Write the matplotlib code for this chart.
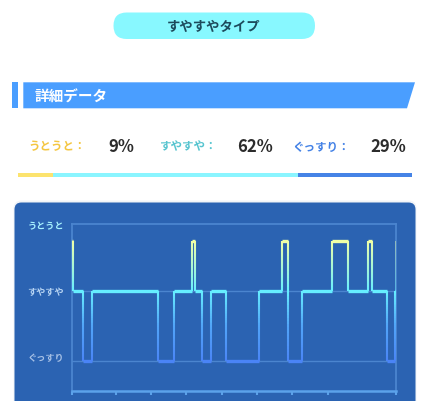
import numpy as np
import matplotlib
matplotlib.use('Agg')
import matplotlib.pyplot as plt
from matplotlib.patches import FancyBboxPatch, Polygon, Rectangle
from matplotlib.collections import LineCollection
from matplotlib.colors import LinearSegmentedColormap, Normalize

plt.rcParams['font.family'] = ['Noto Sans CJK JP', 'DejaVu Sans']

# ---------------- data ----------------
type_title = 'すやすやタイプ'
section_title = '詳細データ'
stage_names = ['うとうと', 'すやすや', 'ぐっすり']
stage_percents = [9, 62, 29]

# hypnogram: minutes from sleep start and the stage that begins there
start_minutes = [0, 2, 18, 34, 145, 172, 203, 209, 220, 236, 261, 317,
                 356, 366, 391, 441, 468, 502, 510, 534, 549]
stage_seq = ['うとうと', 'すやすや', 'ぐっすり', 'すやすや', 'ぐっすり', 'すやすや',
             'うとうと', 'すやすや', 'ぐっすり', 'すやすや', 'ぐっすり', 'すやすや',
             'うとうと', 'ぐっすり', 'すやすや', 'うとうと', 'すやすや', 'うとうと',
             'すやすや', 'ぐっすり', 'すやすや']
end_minute = 550
end_stage = 'うとうと'
tick_minutes = [0, 74, 134, 194, 254, 314, 374, 434, 550]

# ---------------- styles ----------------
label_colors = ['#F4C640', '#58C5D0', '#4482E6']
bar_colors = ['#FCE36E', '#8AF5FF', '#4583E6']
ylabel_colors = ['#A8F2FF', '#B7D4F3', '#A7C1E6']
level_y = {'ぐっすり': 0.0, 'すやすや': 1.0, 'うとうと': 1.72}
ylabel_pos = [1.94, 1.01, 0.07]

W, H = 432, 402
fig = plt.figure(figsize=(W / 100, H / 100), dpi=100)
fig.patch.set_facecolor('white')
bg = fig.add_axes([0, 0, 1, 1])
bg.set_xlim(0, W)
bg.set_ylim(H, 0)
bg.axis('off')

# pill title
bg.add_patch(FancyBboxPatch((113.5, 13.5), 201.5, 26.5,
                            boxstyle='round,pad=0,rounding_size=13.2',
                            fc='#88F8FF', ec='none'))
bg.text(214, 26.5, type_title, ha='center', va='center', fontsize=9.6,
        fontweight='bold', color='#1D4B5C')

# section header
bg.add_patch(Rectangle((11.7, 83.3), 6.3, 26, fc='#4A9EFF', ec='none'))
bg.add_patch(Polygon([(23.3, 83.3), (415, 83.3), (407, 109.3), (23.3, 109.3)],
                     closed=True, fc='#4A9EFF', ec='none'))
bg.text(35, 96.5, section_title, ha='left', va='center', fontsize=10.5,
        fontweight='bold', color='white')

# stats row
label_x = [28, 160, 292]
num_x = [108, 237, 370]
for name, pct, c, lx, nx in zip(stage_names, stage_percents, label_colors, label_x, num_x):
    bg.text(lx, 147, name + '：', ha='left', va='center', fontsize=8.3,
            fontweight='bold', color=c)
    bg.text(nx, 147, f'{pct}%', ha='left', va='center', fontsize=12,
            fontweight='bold', color='#2B2B2B')

# progress bar
x0, total = 18, 394
cur = x0
for pct, c in zip(stage_percents, bar_colors):
    w = total * pct / sum(stage_percents)
    bg.add_patch(Rectangle((cur, 174), w, 4, fc=c, ec='none'))
    cur += w

# card
bg.add_patch(FancyBboxPatch((13.5, 201.5), 403, 240,
                            boxstyle='round,pad=0,rounding_size=8',
                            fc='#E9EDF3', ec='none', alpha=0.6))
bg.add_patch(FancyBboxPatch((14.5, 203.5), 401, 240,
                            boxstyle='round,pad=0,rounding_size=7',
                            fc='#2B63B2', ec='none'))

# ---------------- chart ----------------
left_px, right_px, top_px, bot_px = 72.3, 396, 225, 392
deep_px, unit_px = 362, 70
ax = fig.add_axes([left_px / W, (H - bot_px) / H, (right_px - left_px) / W,
                   (bot_px - top_px) / H])
ax.set_facecolor('none')
ax.set_xlim(0, end_minute)
ax.set_ylim((deep_px - bot_px) / unit_px, (deep_px - top_px) / unit_px)

frame_c = '#4B85CF'
for s in ['left', 'top', 'right']:
    ax.spines[s].set_color(frame_c)
    ax.spines[s].set_linewidth(1.3)
ax.spines['bottom'].set_color('#5CA2EA')
ax.spines['bottom'].set_linewidth(1.8)
for yv in [0.0, 1.0]:
    ax.axhline(yv, color=frame_c, lw=1.0, zorder=1)

ax.set_yticks(ylabel_pos)
ax.set_yticklabels(stage_names)
ax.tick_params(axis='y', length=0, pad=32.4)
for lab, c in zip(ax.get_yticklabels(), ylabel_colors):
    lab.set_horizontalalignment('left')
    lab.set_color(c)
    lab.set_fontsize(6.6)
    lab.set_fontweight('bold')

ax.set_xticks(tick_minutes)
ax.set_xticklabels([''] * len(tick_minutes))
ax.tick_params(axis='x', direction='out', length=3, width=1.5, color='#5CA2EA')

cmap = LinearSegmentedColormap.from_list('sleep', [
    (0.0, '#4A84F6'), (0.3, '#52A6F8'), (1 / 1.72, '#66EEFF'), (1.0, '#F0FFA6')])
norm = Normalize(0, 1.72)

ends = start_minutes[1:] + [end_minute]
next_stages = stage_seq[1:] + [end_stage]
hsegs, hcols = [], []
vsegs, vcols = [], []
fsegs, fcols = [], []
for xs, xe, st, nst in zip(start_minutes, ends, stage_seq, next_stages):
    y = level_y[st]
    hsegs.append([(xs, y), (xe, y)])
    hcols.append(cmap(norm(y)))
    y2 = level_y[nst]
    ys = np.linspace(y, y2, 40)
    tgt_s, tgt_c = (fsegs, fcols) if xe == end_minute else (vsegs, vcols)
    for a, b in zip(ys[:-1], ys[1:]):
        tgt_s.append([(xe, a), (xe, b)])
        tgt_c.append(cmap(norm((a + b) / 2)))

ax.add_collection(LineCollection(vsegs, colors=vcols, linewidths=1.5,
                                 capstyle='butt', zorder=3))
ax.add_collection(LineCollection(fsegs, colors=fcols, linewidths=1.2,
                                 capstyle='butt', alpha=0.55, zorder=3))
ax.add_collection(LineCollection(hsegs, colors=hcols, linewidths=2.4,
                                 capstyle='butt', zorder=4))

fig.savefig('out.png', dpi=100)
